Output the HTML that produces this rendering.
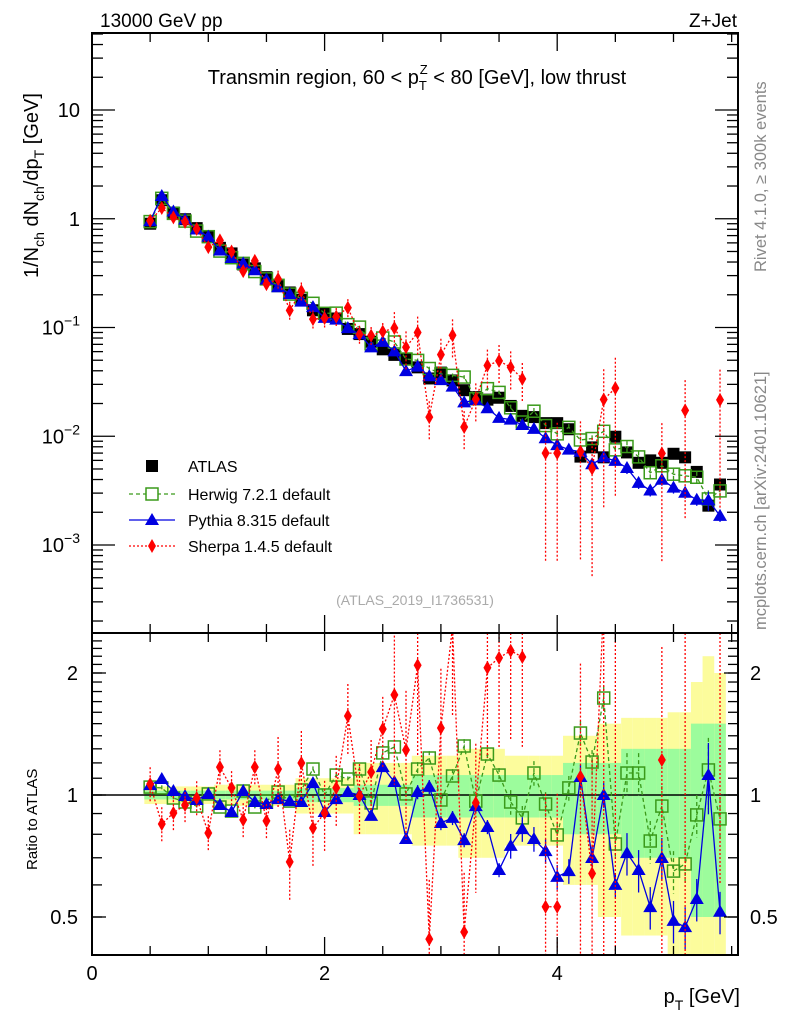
<!DOCTYPE html>
<html><head><meta charset="utf-8">
<style>
html,body{margin:0;padding:0;background:#fff;width:786px;height:1024px;overflow:hidden;}
svg{display:block;font-family:"Liberation Sans",Arial,sans-serif;}
</style></head>
<body>
<svg id="chart" width="786" height="1024" viewBox="0 0 786 1024" xmlns="http://www.w3.org/2000/svg">
<defs>
<clipPath id="clipMain"><rect x="92" y="33" width="646" height="600"/></clipPath>
<clipPath id="clipRatio"><rect x="92" y="633" width="646" height="322"/></clipPath>
</defs>
<rect x="0" y="0" width="786" height="1024" fill="#fff"/>
<g id="ratioBands" clip-path="url(#clipRatio)"></g>
<line x1="92" y1="795" x2="738" y2="795" stroke="#000" stroke-width="1.5"/>
<g id="mainMarks" clip-path="url(#clipMain)"></g>
<g id="ratioMarks" clip-path="url(#clipRatio)"></g>
<g id="axes"></g>
<rect x="92" y="33" width="646" height="600" fill="none" stroke="#000" stroke-width="2"/>
<rect x="92" y="633" width="646" height="322" fill="none" stroke="#000" stroke-width="2"/>

<text x="100" y="27" font-size="19">13000 GeV pp</text>
<text x="737" y="27" font-size="19" text-anchor="end">Z+Jet</text>
<text x="417" y="84" font-size="20" text-anchor="middle">Transmin region, 60 &lt; p<tspan dy="6" font-size="13">T</tspan><tspan dx="-7" dy="-16" font-size="13">Z</tspan><tspan dy="10"> &lt; 80 [GeV], low thrust</tspan></text>
<text transform="translate(38,278) rotate(-90)" font-size="20">1/N<tspan dy="6" font-size="14">ch</tspan><tspan dy="-6"> dN</tspan><tspan dy="6" font-size="14">ch</tspan><tspan dy="-6">/dp</tspan><tspan dy="6" font-size="14">T</tspan><tspan dy="-6"> [GeV]</tspan></text>
<text transform="translate(37,870) rotate(-90)" font-size="15">Ratio to ATLAS</text>
<text transform="translate(766,272) rotate(-90)" font-size="16.5" fill="#888">Rivet 4.1.0, ≥ 300k events</text>
<text transform="translate(766,630) rotate(-90)" font-size="16.5" fill="#888">mcplots.cern.ch [arXiv:2401.10621]</text>
<text x="415" y="605" font-size="14" fill="#aaa" text-anchor="middle">(ATLAS_2019_I1736531)</text>
<text x="740" y="1003" font-size="20" text-anchor="end">p<tspan dy="7" font-size="14">T</tspan><tspan dy="-7"> [GeV]</tspan></text>

<g id="legend">
<g>
<rect x="146" y="460" width="12" height="12" fill="#000"/>
<text x="188" y="472" font-size="16">ATLAS</text></g>
<g>
<line x1="129" y1="494" x2="175" y2="494" stroke="#3a9a1a" stroke-width="1.3" stroke-dasharray="4,3"/>
<rect x="146" y="488" width="12" height="12" fill="#fff" stroke="#3a9a1a" stroke-width="1.5"/>
<text x="188" y="500" font-size="16">Herwig 7.2.1 default</text></g>
<g>
<line x1="129" y1="520" x2="175" y2="520" stroke="#0000e0" stroke-width="1.3"/>
<polygon points="152,513 159,525 145,525" fill="#0000e0"/>
<text x="188" y="526" font-size="16">Pythia 8.315 default</text></g>
<g>
<line x1="129" y1="546" x2="175" y2="546" stroke="#ff0000" stroke-width="1.3" stroke-dasharray="2,2"/>
<polygon points="152,539 156,546 152,553 148,546" fill="#ff0000"/>
<text x="188" y="552" font-size="16">Sherpa 1.4.5 default</text></g>
</g>
</svg>
<script>
const xs = [0.5,0.6,0.7,0.8,0.9,1.0,1.1,1.2,1.3,1.4,1.5,1.6,1.7,1.8,1.9,2.0,2.1,2.2,2.3,2.4,2.5,2.6,2.7,2.8,2.9,3.0,3.1,3.2,3.3,3.4,3.5,3.6,3.7,3.8,3.9,4.0,4.1,4.2,4.3,4.4,4.5,4.6,4.7,4.8,4.9,5.0,5.1,5.2,5.3,5.4];
const atlas = [0.90,1.48,1.14,0.99,0.82,0.68,0.54,0.48,0.38,0.35,0.29,0.24,0.21,0.18,0.144,0.135,0.121,0.097,0.087,0.074,0.063,0.056,0.051,0.043,0.034,0.0385,0.0326,0.0265,0.0229,0.0217,0.0226,0.019,0.0154,0.015,0.0132,0.0132,0.0116,0.0065,0.0079,0.0064,0.0099,0.0071,0.0057,0.006,0.0057,0.0069,0.0064,0.0047,0.0023,0.0036];
const herwigR = [1.046,1.041,0.983,0.961,0.939,1.006,0.934,0.913,1.023,0.934,0.966,1.017,0.966,1.029,1.159,1.0,1.120,1.095,1.159,0.956,1.270,1.314,1.006,1.159,1.234,0.972,1.114,1.321,0.966,1.262,1.12,0.961,0.878,1.133,0.950,0.797,1.041,1.422,1.206,1.735,0.757,1.133,1.133,0.770,0.939,0.649,0.676,0.893,1.153,0.873];
const pythiaR = [1.058,1.095,1.023,0.994,0.972,1.006,0.945,0.908,1.023,0.961,0.950,0.977,0.966,0.961,1.070,0.908,0.977,1.017,1.0,0.888,1.172,1.077,0.779,1.017,1.047,0.853,0.878,0.774,0.939,0.834,0.653,0.749,0.824,0.779,0.727,0.628,0.649,1.108,0.699,1.0,0.600,0.719,0.653,0.529,0.699,0.489,0.472,0.554,1.12,0.515];
const sherpaR = [1.064,0.848,0.903,0.945,0.983,0.806,1.172,1.041,0.868,1.172,0.863,1.159,0.684,1.199,0.829,0.903,1.041,1.566,0.994,1.139,1.455,1.766,1.291,2.09,0.441,1.463,2.6,0.459,0.956,2.06,2.18,2.27,2.19,null,0.53,0.53,null,1.11,0.64,3.4,2.8,null,null,null,1.22,null,2.7,null,null,6.0];
const yellowErr = [0.05,0.05,0.05,0.05,0.05,0.05,0.06,0.06,0.06,0.06,0.06,0.06,0.06,0.1,0.1,0.1,0.1,0.1,0.2,0.2,0.2,0.2,0.2,0.25,0.25,0.25,0.25,0.3,0.3,0.3,0.3,0.25,0.25,0.25,0.25,0.25,0.4,0.4,0.4,0.5,0.5,0.55,0.55,0.55,0.55,0.6,0.6,0.9,1.2,1.0];
const greenErr = [0.025,0.025,0.025,0.025,0.025,0.025,0.025,0.025,0.025,0.025,0.025,0.025,0.025,0.04,0.04,0.04,0.04,0.04,0.06,0.06,0.06,0.06,0.06,0.12,0.12,0.12,0.12,0.12,0.12,0.12,0.12,0.12,0.12,0.12,0.12,0.12,0.2,0.2,0.2,0.2,0.2,0.3,0.3,0.3,0.3,0.3,0.3,0.5,0.5,0.5];
const mcErr = [0.015,0.015,0.015,0.015,0.015,0.015,0.015,0.015,0.015,0.015,0.015,0.015,0.015,0.015,0.015,0.015,0.015,0.015,0.015,0.015,0.015,0.015,0.015,0.04,0.04,0.04,0.04,0.04,0.04,0.04,0.04,0.07,0.07,0.07,0.07,0.07,0.07,0.07,0.07,0.07,0.07,0.12,0.12,0.12,0.12,0.12,0.12,0.12,0.2,0.12];
const sherpaErr = [0.1,0.1,0.1,0.1,0.1,0.1,0.1,0.1,0.1,0.1,0.1,0.2,0.2,0.2,0.2,0.2,0.2,0.2,0.2,0.2,0.2,0.4,0.4,0.4,0.4,0.4,0.4,0.4,0.4,0.4,0.4,0.4,0.4,0.9,0.9,0.9,0.9,0.9,0.9,0.9,0.9,0.9,0.9,0.9,0.9,0.9,0.9,0.9,0.9,0.9];
const xTicks = [0,2,4];
const mainTickExps = [-3,-2,-1,0,1];
const ratioTicks = [0.5,1,2];

const NS = "http://www.w3.org/2000/svg";
function X(v){ return 92 + 116.3*v; }
function YM(v){ return 218.75 - 108.75*Math.log10(v); }
function YR(r){ return 795 - 122*Math.log2(Math.max(r,0.01)); }
function clampY(y, lo, hi){ return Math.min(hi, Math.max(lo, y)); }
function mk(tag, attrs, parent){
  const e = document.createElementNS(NS, tag);
  for (const k in attrs) e.setAttribute(k, attrs[k]);
  parent.appendChild(e); return e;
}
const gB = document.getElementById('ratioBands');
const gM = document.getElementById('mainMarks');
const gR = document.getElementById('ratioMarks');
const gA = document.getElementById('axes');
const GREEN = '#3a9a1a', BLUE = '#0000e0', RED = '#ff0000';

xs.forEach((x,i)=>{
  const x0 = X(x-0.05), x1 = X(x+0.05);
  const yt = clampY(YR(1+yellowErr[i]),633,955), yb = clampY(YR(1-yellowErr[i]),633,955);
  const y1 = mk('rect',{x:x0,y:yt,width:x1-x0,height:yb-yt,fill:'#fcfc9c'},gB);
  
  
  const gt = clampY(YR(1+greenErr[i]),633,955), gb = clampY(YR(1-greenErr[i]),633,955);
  const g1 = mk('rect',{x:x0,y:gt,width:x1-x0,height:gb-gt,fill:'#9cfc9c'},gB);
  
  
});

function polyl(pts, color, dash, parent, name){
  let segs=[], cur=[];
  pts.forEach(p=>{ if(p===null){ if(cur.length) segs.push(cur); cur=[]; } else cur.push(p); });
  if(cur.length) segs.push(cur);
  segs.forEach(s=>{
    const pl = mk('polyline',{points:s.map(p=>p.join(',')).join(' '),fill:'none',stroke:color,'stroke-width':1.3},parent);
    if(dash) pl.setAttribute('stroke-dasharray',dash);
    
    
  });
}
function marker(type, cx, cy, parent, name){
  let e;
  if(type==='atlas') e = mk('rect',{x:cx-6,y:cy-6,width:12,height:12,fill:'#000'},parent);
  else if(type==='herwig') e = mk('rect',{x:cx-6,y:cy-6,width:12,height:12,fill:'none',stroke:GREEN,'stroke-width':1.5},parent);
  else if(type==='pythia') e = mk('polygon',{points:`${cx},${cy-7} ${cx+7},${cy+5} ${cx-7},${cy+5}`,fill:BLUE},parent);
  else e = mk('polygon',{points:`${cx},${cy-7} ${cx+4},${cy} ${cx},${cy+7} ${cx-4},${cy}`,fill:RED},parent);
  
  
}
function errbar(cx, ya, yb, color, dash, parent, lo, hi){
  const l = mk('line',{x1:cx,y1:clampY(ya,lo,hi),x2:cx,y2:clampY(yb,lo,hi),stroke:color,'stroke-width':1.3},parent);
  if(dash) l.setAttribute('stroke-dasharray',dash);
  
  
}

const series = [
  {key:'herwig', r:herwigR, err:mcErr, color:GREEN, dash:'4,3'},
  {key:'pythia', r:pythiaR, err:mcErr, color:BLUE, dash:null},
  {key:'sherpa', r:sherpaR, err:sherpaErr, color:RED, dash:'2,2'}
];

xs.forEach((x,i)=>{ marker('atlas', X(x), YM(atlas[i]), gM, 'atlas-point'); });
series.forEach(s=>{
  const pts = xs.map((x,i)=> s.r[i]===null ? null : [X(x), YM(atlas[i]*s.r[i])]);
  polyl(pts, s.color, s.dash, gM, s.key+'-line');
  xs.forEach((x,i)=>{
    if(s.r[i]===null) return;
    const v = atlas[i]*s.r[i];
    errbar(X(x), YM(v*(1+s.err[i])), YM(Math.max(v*(1-s.err[i]),1e-6)), s.color, s.dash, gM, 33, 633);
    marker(s.key, X(x), YM(v), gM, s.key+'-point');
  });
});
series.forEach(s=>{
  const pts = xs.map((x,i)=> s.r[i]===null ? null : [X(x), clampY(YR(s.r[i]),600,990)]);
  polyl(pts, s.color, s.dash, gR, s.key+'-ratio-line');
  xs.forEach((x,i)=>{
    if(s.r[i]===null) return;
    const r = s.r[i];
    errbar(X(x), YR(r*(1+s.err[i])), YR(Math.max(r*(1-s.err[i]),0.01)), s.color, s.dash, gR, 633, 955);
    const yy = YR(r);
    if(yy>620 && yy<970) marker(s.key, X(x), yy, gR, s.key+'-ratio-point');
  });
});

function tick(x1,y1,x2,y2){
  const l = mk('line',{x1,y1,x2,y2,stroke:'#000','stroke-width':1.3},gA);
  
  
}
function label(x,y,txt,anchor,size,name){
  const t = mk('text',{x,y,'font-size':size,'text-anchor':anchor},gA);
  t.textContent = txt;
  
  
  return t;
}
for(let v=0; v<=5.6; v+=0.5){
  const major = xTicks.some(t=>Math.abs(t-v)<1e-6);
  const L = major?18:9;
  const x = X(v);
  tick(x,633,x,633-L); tick(x,33,x,33+L);
  tick(x,955,x,955-L); tick(x,633,x,633+L);
}
xTicks.forEach(t=>{ label(X(t), 980, String(t), 'middle', 20, 'x-tick-label'); });
mainTickExps.forEach(e=>{
  const y = YM(Math.pow(10,e));
  tick(92,y,115,y); tick(738,y,715,y);
  for(let m=2;m<=9;m++){
    const ym = YM(m*Math.pow(10,e-1));
    if(ym>33 && ym<633){ tick(92,ym,103,ym); tick(738,ym,727,ym); }
  }
  for(let m=2;m<=9;m++){
    const ym = YM(m*Math.pow(10,e));
    if(ym>33 && ym<633 && e===1){ tick(92,ym,103,ym); tick(738,ym,727,ym); }
  }
  let t;
  if(e===0) t = label(80, y+7, '1', 'end', 20, 'y-tick-label');
  else if(e===1) t = label(80, y+7, '10', 'end', 20, 'y-tick-label');
  else {
    t = label(80, y+7, '', 'end', 20, 'y-tick-label');
    const a = document.createElementNS(NS,'tspan'); a.textContent='10'; t.appendChild(a);
    const b = document.createElementNS(NS,'tspan'); b.setAttribute('dy','-9'); b.setAttribute('font-size','14'); b.textContent='−'+(-e); t.appendChild(b);
  }
});
for(let r=0.4; r<=2.55; r+=0.1){
  const y = YR(r);
  if(y<=634||y>=954) continue;
  tick(92,y,102,y); tick(738,y,728,y);
}
ratioTicks.forEach(r=>{
  const y = YR(r);
  tick(92,y,106,y); tick(738,y,724,y);
  label(78, y+7, String(r), 'end', 20, 'ratio-tick-label');
  label(750, y+7, String(r), 'start', 20, 'ratio-tick-label-right');
});
</script>
</body></html>
